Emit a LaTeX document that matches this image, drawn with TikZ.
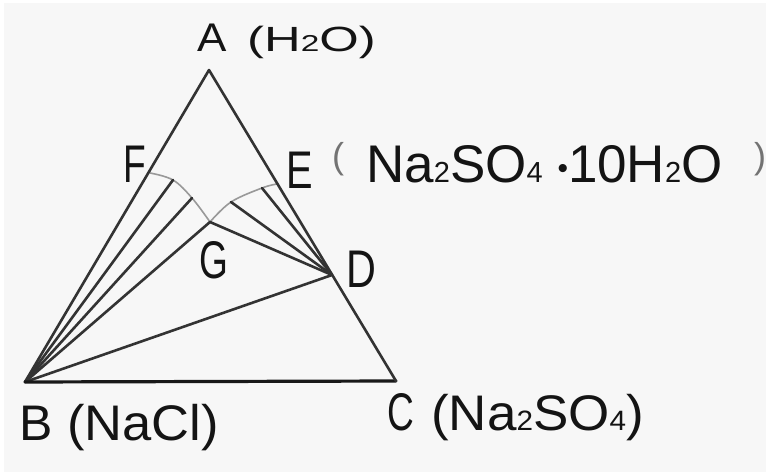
\documentclass[tikz,border=0pt]{standalone}
\usepackage{fontspec}
\setmainfont{Liberation Sans}
\usepackage{graphicx}
\newcommand\fsz[1]{\fontsize{#1}{#1}\selectfont}
\begin{document}
\begin{tikzpicture}[x=1pt,y=1pt,
  edge/.style={draw=black!80, line width=2.6pt, line cap=round},
  baseedge/.style={draw=black!90, line width=3.2pt, line cap=round},
  arcline/.style={draw=black!40, line width=1.6pt},
  lbl/.style={inner sep=0pt, anchor=base west, text=black!92},
  paren/.style={inner sep=0pt, anchor=center, text=black!55},
]
\fill[white] (0,0) rectangle (769,475);
\fill[black!3] (4,3) rectangle (766,472);
\useasboundingbox (0,0) rectangle (769,475);

% points
\coordinate (A) at (209,405);
\coordinate (B) at (25,93);
\coordinate (C) at (396,94);
\coordinate (D) at (332,200);
\coordinate (E) at (277,291);
\coordinate (F) at (150,302);
\coordinate (G) at (210,253);
\coordinate (P1) at (173,295);
\coordinate (P2) at (192,277);
\coordinate (Q1) at (231,273);
\coordinate (Q2) at (262,287);

% gray curves
\draw[arcline] plot[smooth, tension=0.6] coordinates {(F) (P1) (P2) (G)};
\draw[arcline] plot[smooth, tension=0.6] coordinates {(G) (Q1) (Q2) (E)};

% lines from B
\draw[edge] (B) -- (A);
\draw[edge] (B) -- (P1);
\draw[edge] (B) -- (P2);
\draw[edge] (B) -- (G);
\draw[edge] (B) -- (D);
\draw[baseedge] (B) -- (C);
% side AC
\draw[edge] (A) -- (C);
% lines from D
\draw[edge] (D) -- (G);
\draw[edge] (D) -- (Q1);
\draw[edge] (D) -- (Q2);

% labels
\node[lbl] (lA) at (197,423) {\fsz{40}\scalebox{1.1}[1]{A}};
\node[lbl] (lAw) at (247,423) {\scalebox{1.45}[1]{\fsz{35}(H{\fsz{23}2}O)}};
\node[lbl] (lF) at (123,292) {\fsz{53}\scalebox{0.7}[1]{F}};
\node[lbl] (lE) at (286,287) {\fsz{53}\scalebox{0.75}[1]{E}};
\node[paren] (lEo) at (338,316) {\fsz{36}(};
\node[lbl] (lEw) at (366,292) {\fsz{53}Na{\fsz{29}2}SO{\fsz{29}4} \raisebox{5pt}{\fsz{30}•}10H{\fsz{29}2}O};
\node[paren] (lEc) at (760,316) {\fsz{36})};
\node[lbl] (lG) at (199,197) {\fsz{53}\scalebox{0.7}[1]{G}};
\node[lbl] (lD) at (346,188) {\fsz{53}\scalebox{0.78}[1]{D}};
\node[lbl] (lB) at (19,35) {\fsz{50}B};
\node[lbl] (lBw) at (67,35) {\scalebox{1.05}[1]{\fsz{50}(NaCl)}};
\node[lbl] (lC) at (387,45) {\fsz{53}\scalebox{0.7}[1]{C}};
\node[lbl] (lCw) at (431,45) {\scalebox{1.06}[1]{\fsz{50}(Na{\fsz{28}2}SO{\fsz{28}4})}};
\end{tikzpicture}
\end{document}
